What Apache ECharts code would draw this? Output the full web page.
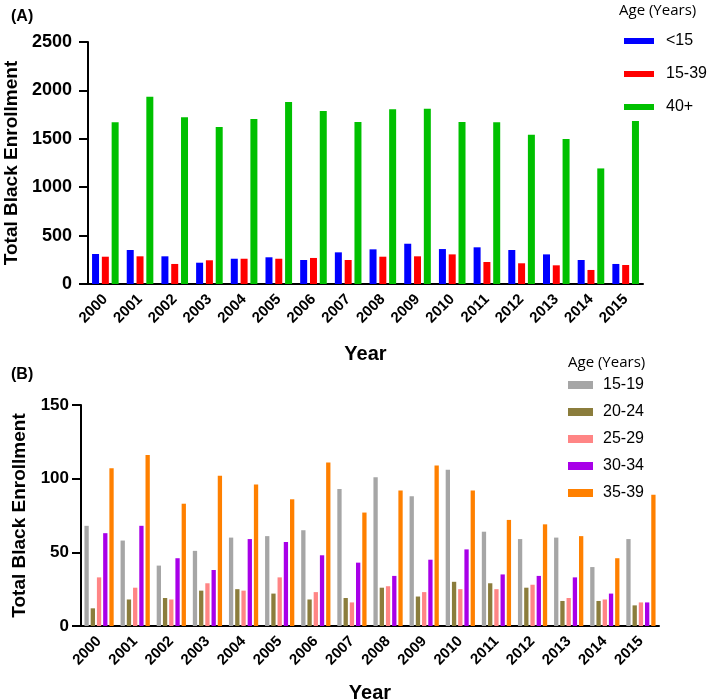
<!DOCTYPE html>
<html>
<head>
    <meta charset="utf-8">
    <title>Total Black Enrollment by Age</title>
    <script src="https://cdn.jsdelivr.net/npm/echarts@6/dist/echarts.min.js"></script>
    <style>
        html, body { margin: 0; padding: 0; background: #fff; }
        #chart { width: 709px; height: 700px; }
    </style>
</head>
<body>
    <div id="chart"></div>
    <script>
        // data
        const years = ['2000', '2001', '2002', '2003', '2004', '2005', '2006', '2007',
                       '2008', '2009', '2010', '2011', '2012', '2013', '2014', '2015'];

        // panel A
        const under15 = [310, 351, 286, 220, 261, 276, 248, 327, 358, 416, 361, 379, 351, 306, 248, 207];
        const age15to39 = [282, 286, 207, 245, 261, 261, 269, 248, 282, 286, 306, 227, 214, 193, 145, 196];
        const age40plus = [1670, 1935, 1722, 1622, 1705, 1880, 1787, 1673, 1806, 1810, 1673, 1670, 1541, 1497, 1194, 1683];

        // panel B
        const age15to19 = [68, 58, 41, 51, 60, 61, 65, 93, 101, 88, 106, 64, 59, 60, 40, 59];
        const age20to24 = [12, 18, 19, 24, 25, 22, 18, 19, 26, 20, 30, 29, 26, 17, 17, 14];
        const age25to29 = [33, 26, 18, 29, 24, 33, 23, 16, 27, 23, 25, 25, 28, 19, 18, 16];
        const age30to34 = [63, 68, 46, 38, 59, 57, 48, 43, 34, 45, 52, 35, 34, 33, 22, 16];
        const age35to39 = [107, 116, 83, 102, 96, 86, 111, 77, 92, 109, 92, 72, 69, 61, 46, 89];

        const chart = echarts.init(document.getElementById('chart'));

        const FONT = '"Liberation Sans", Arial, sans-serif';
        const axisLine = { lineStyle: { color: '#000', width: 2 } };

        function xAxisFor(grid, nameGap) {
            return {
                type: 'category',
                gridIndex: grid,
                data: years,
                name: 'Year',
                nameLocation: 'middle',
                nameGap: nameGap,
                nameTextStyle: { fontFamily: FONT, fontWeight: 'bold', fontSize: 20, color: '#000' },
                axisLine: axisLine,
                axisTick: { alignWithLabel: true, length: 9, lineStyle: { color: '#000', width: 2 } },
                axisLabel: {
                    rotate: 45, margin: 13, color: '#000', interval: 0,
                    fontFamily: FONT, fontWeight: 'bold', fontSize: 15
                }
            };
        }

        function yAxisFor(grid, max, interval, nameGap, labelSize, labelMargin) {
            return {
                type: 'value',
                gridIndex: grid,
                min: 0,
                max: max,
                interval: interval,
                name: 'Total Black Enrollment',
                nameLocation: 'middle',
                nameGap: nameGap,
                nameTextStyle: { fontFamily: FONT, fontWeight: 'bold', fontSize: 19, color: '#000' },
                axisLine: Object.assign({ show: true }, axisLine),
                axisTick: { show: true, length: 9, lineStyle: { color: '#000', width: 2 } },
                splitLine: { show: false },
                axisLabel: {
                    color: '#000', fontFamily: FONT, fontWeight: 'bold', fontSize: labelSize, margin: labelMargin,
                    formatter: v => String(v)
                }
            };
        }

        function bars(name, values, color, grid, width, gap) {
            return {
                name: name,
                type: 'bar',
                xAxisIndex: grid,
                yAxisIndex: grid,
                data: values,
                barWidth: width,
                barGap: gap,
                itemStyle: { color: color },
                animation: false
            };
        }

        const option = {
            backgroundColor: '#fff',
            title: [
                { text: '(A)', left: 6, top: 4, textStyle: { fontFamily: FONT, fontWeight: 'bold', fontSize: 16, color: '#000' } },
                { text: '(B)', left: 6, top: 362, textStyle: { fontFamily: FONT, fontWeight: 'bold', fontSize: 16, color: '#000' } },
                { text: 'Age (Years)', left: 614, top: -2, textStyle: { fontFamily: '"Open Sans", sans-serif', fontWeight: 'normal', fontSize: 15, color: '#000' } },
                { text: 'Age (Years)', left: 563, top: 350, textStyle: { fontFamily: '"Open Sans", sans-serif', fontWeight: 'normal', fontSize: 15, color: '#000' } }
            ],
            legend: [
                {
                    data: ['<15', '15-39', '40+'],
                    orient: 'vertical',
                    left: 619, top: 28,
                    icon: 'rect', itemWidth: 30, itemHeight: 6, itemGap: 17,
                    textStyle: { fontFamily: FONT, fontSize: 16, color: '#000', padding: [0, 0, 0, 7] }
                },
                {
                    data: ['15-19', '20-24', '25-29', '30-34', '35-39'],
                    orient: 'vertical',
                    left: 563, top: 372,
                    icon: 'rect', itemWidth: 25, itemHeight: 8, itemGap: 11,
                    textStyle: { fontFamily: FONT, fontSize: 16, color: '#000', padding: [0, 0, 0, 5] }
                }
            ],
            grid: [
                { left: 88, right: 66, top: 42, bottom: 416, containLabel: false, outerBoundsMode: 'none' },
                { left: 81, right: 50, top: 405, bottom: 74, containLabel: false, outerBoundsMode: 'none' }
            ],
            xAxis: [xAxisFor(0, 60), xAxisFor(1, 57)],
            yAxis: [yAxisFor(0, 2500, 500, 67, 18, 16), yAxisFor(1, 150, 50, 49, 17, 12)],
            series: [
                bars('<15', under15, '#0000ff', 0, 7, '40%'),
                bars('15-39', age15to39, '#ff0000', 0, 7, '40%'),
                bars('40+', age40plus, '#00c000', 0, 7, '40%'),
                bars('15-19', age15to19, '#a6a6a6', 1, 4.3, '45%'),
                bars('20-24', age20to24, '#8b7d3c', 1, 4.3, '45%'),
                bars('25-29', age25to29, '#ff8585', 1, 4.3, '45%'),
                bars('30-34', age30to34, '#a800e8', 1, 4.3, '45%'),
                bars('35-39', age35to39, '#ff8000', 1, 4.3, '45%')
            ]
        };

        chart.setOption(option);
    </script>
</body>
</html>
